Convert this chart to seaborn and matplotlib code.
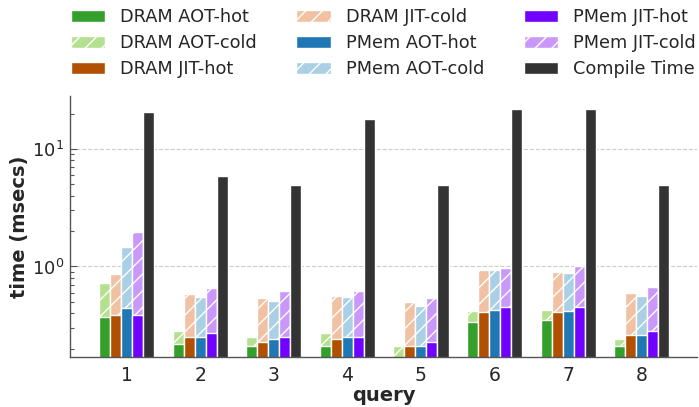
import numpy as np
import pandas as pd
import matplotlib
matplotlib.use("Agg")
import matplotlib.pyplot as plt
from matplotlib.patches import Patch
import seaborn as sns

queries = ["1", "2", "3", "4", "5", "6", "7", "8"]
configs = ["DRAM AOT", "DRAM JIT", "PMem AOT", "PMem JIT", "Compile"]

dram_aot_hot = [0.37, 0.22, 0.21, 0.21, 0.15, 0.34, 0.35, 0.21]
dram_aot_cold = [0.73, 0.28, 0.25, 0.27, 0.21, 0.42, 0.43, 0.24]
dram_jit_hot = [0.39, 0.25, 0.23, 0.24, 0.21, 0.41, 0.41, 0.26]
dram_jit_cold = [0.87, 0.58, 0.54, 0.56, 0.50, 0.94, 0.90, 0.60]
pmem_aot_hot = [0.44, 0.25, 0.24, 0.25, 0.21, 0.43, 0.42, 0.26]
pmem_aot_cold = [1.46, 0.55, 0.51, 0.55, 0.46, 0.94, 0.88, 0.56]
pmem_jit_hot = [0.39, 0.27, 0.25, 0.25, 0.23, 0.45, 0.45, 0.28]
pmem_jit_cold = [1.95, 0.65, 0.62, 0.62, 0.54, 0.98, 1.01, 0.67]
compile_time = [20.8, 5.9, 4.9, 17.9, 4.9, 21.8, 21.8, 4.9]

hot_colors = ["#33a02c", "#b15000", "#1f78b4", "#7000ff", "#333333"]
cold_colors = ["#b5e08f", "#f0c2a3", "#a9d0e4", "#c998fa", "#333333"]

hot_df = pd.DataFrame({
    "query": queries * 5,
    "config": sum([[c] * 8 for c in configs], []),
    "time": dram_aot_hot + dram_jit_hot + pmem_aot_hot + pmem_jit_hot + compile_time,
})
cold_df = pd.DataFrame({
    "query": queries * 5,
    "config": sum([[c] * 8 for c in configs], []),
    "time": dram_aot_cold + dram_jit_cold + pmem_aot_cold + pmem_jit_cold + compile_time,
})

sns.set_style("white")
plt.rcParams["font.family"] = ["DejaVu Sans"]
plt.rcParams["hatch.linewidth"] = 1.0

fig = plt.figure(figsize=(6.99, 4.07), dpi=100)
ax = fig.add_axes([0.100, 0.123, 0.897, 0.641])
ax.set_yscale("log")

sns.barplot(data=cold_df, x="query", y="time", hue="config", hue_order=configs,
            palette=cold_colors, width=0.75, errorbar=None, legend=False,
            edgecolor="white", linewidth=1.0, saturation=1, ax=ax)
sns.barplot(data=hot_df, x="query", y="time", hue="config", hue_order=configs,
            palette=hot_colors, width=0.75, errorbar=None, legend=False,
            edgecolor="white", linewidth=1.0, saturation=1, ax=ax)

for i in range(4):
    for bar in ax.containers[i]:
        bar.set_hatch("//")

ax.set_ylim(0.170, 28.2)
ax.set_xlim(-0.77, 7.75)

ax.yaxis.grid(True, which="major", linestyle="--", color="#cccccc", linewidth=0.8)
ax.set_axisbelow(True)
for s in ["top", "right"]:
    ax.spines[s].set_visible(False)
for s in ["left", "bottom"]:
    ax.spines[s].set_color("#555555")
    ax.spines[s].set_linewidth(1.0)

ax.tick_params(axis="y", which="major", direction="in", length=5, width=0.8,
               color="#555555", labelsize=13, labelcolor="#262626", left=True, pad=4)
ax.tick_params(axis="y", which="minor", direction="in", length=3, width=0.8,
               color="#555555", left=True)
ax.tick_params(axis="x", length=0, labelsize=13.5, labelcolor="#262626", pad=6.5)

ax.set_ylabel("time (msecs)", fontsize=14, fontweight="bold", color="#262626", labelpad=2)
ax.set_xlabel("query", fontsize=14, fontweight="bold", color="#262626", labelpad=1)

labels = ["DRAM AOT-hot", "DRAM AOT-cold", "DRAM JIT-hot",
          "DRAM JIT-cold", "PMem AOT-hot", "PMem AOT-cold",
          "PMem JIT-hot", "PMem JIT-cold", "Compile Time"]
handles = [
    Patch(facecolor=hot_colors[0], edgecolor="white"),
    Patch(facecolor=cold_colors[0], edgecolor="white", hatch="//"),
    Patch(facecolor=hot_colors[1], edgecolor="white"),
    Patch(facecolor=cold_colors[1], edgecolor="white", hatch="//"),
    Patch(facecolor=hot_colors[2], edgecolor="white"),
    Patch(facecolor=cold_colors[2], edgecolor="white", hatch="//"),
    Patch(facecolor=hot_colors[3], edgecolor="white"),
    Patch(facecolor=cold_colors[3], edgecolor="white", hatch="//"),
    Patch(facecolor=hot_colors[4], edgecolor="white"),
]
leg = fig.legend(handles, labels, loc="upper left",
                 bbox_to_anchor=(0.0897, 1.0),
                 borderaxespad=0, borderpad=0.45,
                 ncol=3, frameon=False, fontsize=12.8, columnspacing=2.2,
                 handletextpad=0.85, handlelength=1.95, labelspacing=0.45)
for t in leg.get_texts():
    t.set_color("#262626")

fig.savefig("out.png", dpi=100)
